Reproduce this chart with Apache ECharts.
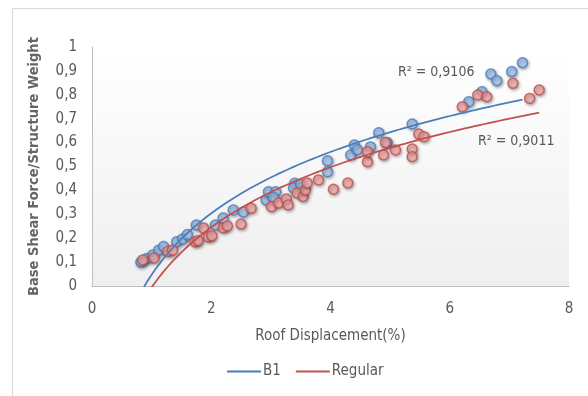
<!DOCTYPE html>
<html>
<head>
<meta charset="utf-8">
<script src="https://cdn.jsdelivr.net/npm/echarts@6/dist/echarts.min.js"></script>
<style>
html,body{margin:0;padding:0;background:#fff;}
#chart{width:588px;height:396px;}
</style>
</head>
<body>
<div id="chart"></div>
<script>
// ---- data ----
var xTicks = [0, 2, 4, 6, 8];
var yTicks = [0, 0.1, 0.2, 0.3, 0.4, 0.5, 0.6, 0.7, 0.8, 0.9, 1];
var seriesNames = ['B1', 'Regular'];
var b1Points = [
  [0.82,0.10],[0.92,0.115],[1.02,0.13],[1.12,0.15],[1.2,0.165],[1.42,0.185],[1.52,0.197],
  [1.6,0.215],[1.75,0.255],[2.07,0.255],[2.2,0.284],[2.37,0.318],[2.54,0.31],
  [2.92,0.36],[2.96,0.394],[3.08,0.394],[3.04,0.37],[3.4,0.43],[3.38,0.41],[3.5,0.425],
  [3.95,0.524],[3.95,0.478],[4.34,0.548],[4.4,0.59],[4.45,0.57],[4.67,0.582],
  [4.81,0.641],[4.95,0.6],[5.37,0.678],[6.32,0.771],[6.54,0.813],[6.69,0.887],
  [6.79,0.859],[7.04,0.897],[7.22,0.934]
];
var regularPoints = [
  [0.85,0.109],[1.04,0.117],[1.27,0.144],[1.35,0.15],[1.73,0.185],[1.78,0.19],
  [1.87,0.243],[1.95,0.205],[2.01,0.21],[2.2,0.243],[2.27,0.251],[2.5,0.259],
  [2.67,0.325],[3.01,0.332],[3.13,0.347],[3.26,0.364],[3.29,0.339],[3.44,0.389],
  [3.54,0.374],[3.58,0.402],[3.61,0.431],[3.8,0.444],[4.05,0.405],[4.29,0.431],
  [4.62,0.52],[4.62,0.562],[4.89,0.548],[4.92,0.6],[5.09,0.569],[5.37,0.573],
  [5.37,0.541],[5.48,0.636],[5.57,0.625],[6.21,0.75],[6.47,0.799],[6.62,0.792],
  [7.06,0.848],[7.34,0.785],[7.5,0.82]
];
var r2Labels = ['R\u00B2 = 0,9106', 'R\u00B2 = 0,9011'];

// logarithmic least-squares trendline (y = a ln x + b), as Excel draws it
function logFit(pts) {
  var n = pts.length, sx = 0, sy = 0, sxx = 0, sxy = 0;
  pts.forEach(function (p) {
    var lx = Math.log(p[0]);
    sx += lx; sy += p[1]; sxx += lx * lx; sxy += lx * p[1];
  });
  var a = (n * sxy - sx * sy) / (n * sxx - sx * sx);
  var b = (sy - a * sx) / n;
  var xs = pts.map(function (p) { return p[0]; });
  var x0 = Math.min.apply(null, xs), x1 = Math.max.apply(null, xs);
  var out = [];
  for (var i = 0; i <= 80; i++) {
    var x = x0 + (x1 - x0) * i / 80;
    out.push([x, a * Math.log(x) + b]);
  }
  return out;
}

var FONT = '"Liberation Sans Narrow", "DejaVu Sans Condensed", "Open Sans", sans-serif';
var TXT = '#595959';
var BLUE = '#4a7ebb', RED = '#c0504d';

function comma(v) { return String(v).replace('.', ','); }

var chart = echarts.init(document.getElementById('chart'));
chart.setOption({
  animation: false,
  backgroundColor: '#fff',
  graphic: [
    { type: 'rect', shape: { x: 12.5, y: 8.5, width: 600, height: 400 },
      style: { fill: 'none', stroke: '#d9d9d9', lineWidth: 1 }, z: -10 },
    { type: 'text', left: 398, top: 65,
      style: { text: r2Labels[0], font: '14px ' + FONT, fill: TXT } },
    { type: 'text', left: 478, top: 134,
      style: { text: r2Labels[1], font: '14px ' + FONT, fill: TXT } }
  ],
  grid: {
    left: 92, right: 19, top: 47, bottom: 110,
    show: true, borderWidth: 0,
    backgroundColor: new echarts.graphic.LinearGradient(0, 0, 0, 1, [
      { offset: 0, color: '#ffffff' }, { offset: 1, color: '#efefef' }
    ])
  },
  legend: {
    data: seriesNames,
    bottom: 12, left: 222,
    icon: 'rect', itemWidth: 34, itemHeight: 2, itemGap: 15,
    textStyle: { fontFamily: FONT, fontSize: 15, color: TXT, padding: [0, 0, 0, -3] }
  },
  xAxis: {
    type: 'value', min: xTicks[0], max: xTicks[xTicks.length - 1], interval: 2,
    name: 'Roof Displacement(%)', nameLocation: 'middle', nameGap: 43,
    nameTextStyle: { fontFamily: FONT, fontSize: 15, color: TXT },
    axisLine: { show: true, lineStyle: { color: '#bfbfbf', width: 1 } },
    axisTick: { show: false },
    splitLine: { show: false },
    axisLabel: { fontFamily: FONT, fontSize: 15, color: TXT, margin: 16, formatter: comma }
  },
  yAxis: {
    type: 'value', min: yTicks[0], max: yTicks[yTicks.length - 1], interval: 0.1,
    name: 'Base Shear Force/Structure Weight', nameLocation: 'middle', nameGap: 50,
    nameTextStyle: { fontFamily: FONT, fontSize: 14.5, color: '#666666', fontWeight: 'bold' },
    axisLine: { show: true, lineStyle: { color: '#bfbfbf', width: 1 } },
    axisTick: { show: false },
    splitLine: { show: false },
    axisLabel: { fontFamily: FONT, fontSize: 15, color: TXT, margin: 15,
      formatter: function (v) { return comma(Math.round(v * 10) / 10); } }
  },
  series: [
    { name: 'B1 pts', type: 'scatter', data: b1Points, symbolSize: 10,
      itemStyle: { color: '#a6c6f0', borderColor: BLUE, borderWidth: 1.5,
        shadowBlur: 3, shadowColor: 'rgba(0,0,0,0.35)', shadowOffsetX: 1, shadowOffsetY: 1.5 }, z: 3 },
    { name: 'Regular pts', type: 'scatter', data: regularPoints, symbolSize: 10,
      itemStyle: { color: '#f6abab', borderColor: RED, borderWidth: 1.5,
        shadowBlur: 3, shadowColor: 'rgba(0,0,0,0.35)', shadowOffsetX: 1, shadowOffsetY: 1.5 }, z: 4 },
    { name: 'B1', type: 'line', data: logFit(b1Points), showSymbol: false, clip: true,
      lineStyle: { color: BLUE, width: 1.75 }, itemStyle: { color: BLUE }, z: 5 },
    { name: 'Regular', type: 'line', data: logFit(regularPoints), showSymbol: false, clip: true,
      lineStyle: { color: RED, width: 1.75 }, itemStyle: { color: RED }, z: 5 }
  ]
});
</script>
</body>
</html>
